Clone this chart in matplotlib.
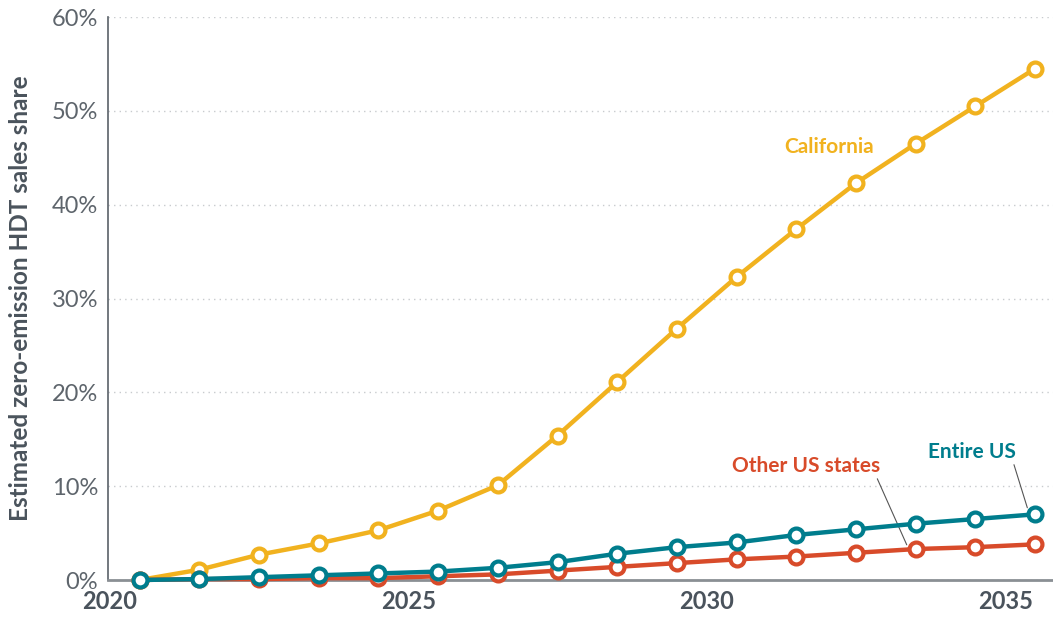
import numpy as np
import matplotlib
matplotlib.use('Agg')
import matplotlib.pyplot as plt
from matplotlib.ticker import FuncFormatter

years = [2020.5 + i for i in range(16)]
california = [0.0, 1.1, 2.7, 3.9, 5.3, 7.4, 10.1, 15.4, 21.1, 26.8, 32.3, 37.4, 42.3, 46.5, 50.5, 54.5]
entire_us = [0.0, 0.1, 0.3, 0.5, 0.7, 0.9, 1.3, 1.9, 2.8, 3.5, 4.0, 4.8, 5.4, 6.0, 6.5, 7.0]
other_states = [0.0, 0.1, 0.1, 0.2, 0.2, 0.4, 0.6, 1.0, 1.4, 1.8, 2.2, 2.5, 2.9, 3.3, 3.5, 3.8]

x_ticks = [2020, 2025, 2030, 2035]
y_ticks = [0, 10, 20, 30, 40, 50, 60]

YELLOW = '#F1B21F'
TEAL = '#007D8D'
RED = '#D84B2A'
GRAY = '#4A535C'

plt.rcParams['font.family'] = ['Lato', 'DejaVu Sans']

fig = plt.figure(figsize=(10.53, 6.19), dpi=100)
ax = fig.add_axes([0.1026, 0.063, 0.8974, 0.9095])


def draw(vals, color, z):
    ax.plot(years, vals, color=color, lw=3.2, marker='o', ms=10,
            mfc='white', mec=color, mew=3, zorder=z, clip_on=False)


draw(california, YELLOW, 3)
draw(other_states, RED, 4)
draw(entire_us, TEAL, 5)

ax.set_xlim(2019.97, 2035.8)
ax.set_ylim(0, 60)
ax.set_xticks(x_ticks)
ax.set_yticks(y_ticks)
ax.yaxis.set_major_formatter(FuncFormatter(lambda v, p: '{:d}%'.format(int(v))))
ax.tick_params(axis='both', length=0)
ax.tick_params(axis='y', labelsize=17, colors='#5E656C', pad=7)
ax.tick_params(axis='x', labelsize=17, colors=GRAY, pad=7)
for lbl in ax.get_xticklabels():
    lbl.set_fontweight('bold')

ax.grid(axis='y', color='#C8CBCE', linestyle=(0, (1, 3)), lw=1)
ax.set_axisbelow(True)
for s in ['top', 'right']:
    ax.spines[s].set_visible(False)
ax.spines['left'].set_color('#5A6168')
ax.spines['bottom'].set_color('#8A8F94')
ax.spines['bottom'].set_linewidth(2)
ax.spines['left'].set_linewidth(1.2)

ax.set_ylabel('Estimated zero-emission HDT sales share', fontsize=17.5,
              color=GRAY, fontweight='bold', labelpad=14)

ax.text(2032.05, 46.2, 'California', color=YELLOW, fontsize=15,
        fontweight='bold', ha='center', va='center')
ax.annotate('Other US states', xy=(2033.35, 3.75),
            xytext=(2031.67, 12.15), color=RED, fontsize=15,
            fontweight='bold', ha='center', va='center',
            arrowprops=dict(arrowstyle='-', color='#555555', lw=0.8,
                            shrinkA=0, shrinkB=0,
                            relpos=(0.97, 0.0)))
ax.annotate('Entire US', xy=(2035.37, 7.7),
            xytext=(2034.44, 13.65), color=TEAL, fontsize=15,
            fontweight='bold', ha='center', va='center',
            arrowprops=dict(arrowstyle='-', color='#555555', lw=0.8,
                            shrinkA=0, shrinkB=0,
                            relpos=(0.97, 0.0)))

fig.savefig('out.png', dpi=100)
